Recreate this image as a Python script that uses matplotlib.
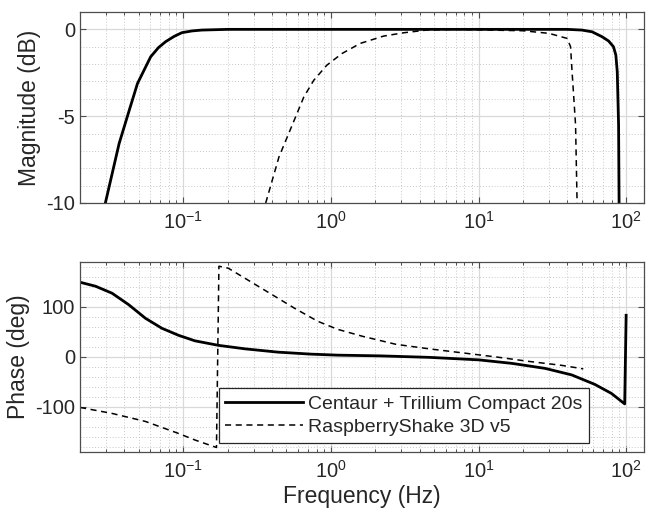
import numpy as np
import matplotlib
matplotlib.use("Agg")
import matplotlib.pyplot as plt
from matplotlib.ticker import MultipleLocator, LogLocator, NullFormatter

plt.rcParams['font.family'] = ['Liberation Sans', 'DejaVu Sans']
plt.rcParams['mathtext.fontset'] = 'custom'
plt.rcParams['mathtext.rm'] = 'Liberation Sans'
plt.rcParams['mathtext.it'] = 'Liberation Sans:italic'
plt.rcParams['axes.unicode_minus'] = False

# ---- data ----
# Centaur + Trillium Compact 20s magnitude
cen_mag_f = [0.0297, 0.0368, 0.0431, 0.049, 0.0602, 0.068, 0.076, 0.087, 0.098, 0.115,
             0.134, 0.2, 1.0, 10.0, 40.0, 50.0, 58.7, 68.5, 76.0, 82.0, 85.1, 87.0,
             88.8, 89.5]
cen_mag_db = [-10.0, -6.58, -4.66, -3.12, -1.58, -1.05, -0.71, -0.4, -0.19, -0.09,
              -0.04, 0.0, 0.0, 0.0, 0.0, -0.04, -0.14, -0.42, -0.67, -1.0, -1.48, -2.45,
              -5.5, -10.0]

# RaspberryShake 3D v5 magnitude
rs_mag_f = [0.362, 0.445, 0.577, 0.656, 0.766, 0.94, 1.19, 1.58, 2.27, 3.09, 4.45,
            7.0, 20.0, 30.0, 39.8, 42.0, 43.0, 44.2, 45.4, 46.5]
rs_mag_db = [-10.0, -7.35, -5.04, -3.89, -2.93, -2.06, -1.39, -0.81, -0.39, -0.2, -0.04,
             0.0, -0.08, -0.23, -0.52, -1.0, -2.45, -3.98, -5.5, -10.0]

# Centaur + Trillium Compact 20s phase
cen_ph_f = [0.02, 0.0255, 0.033, 0.0428, 0.0555, 0.0718, 0.093, 0.12, 0.173, 0.262,
            0.438, 0.735, 1.11, 2.13, 4.63, 10.0, 16.8, 28.2, 42.7, 61.3, 79.4, 97.7,
            99.9]
cen_ph_deg = [149, 141, 127, 104, 77, 57, 43, 32, 23, 16,
              9.4, 5.4, 3.4, 2, -1, -6, -13, -23, -36, -55, -73, -94,
              83]

# RaspberryShake 3D v5 phase
rs_ph_f = [0.02, 0.033, 0.0555, 0.093, 0.12, 0.168, 0.1745, 0.202, 0.339, 0.568,
           0.815, 1.11, 1.64, 2.76, 4.63, 7.76, 13.0, 21.8, 36.6, 51.2]
rs_ph_deg = [-101, -113, -129, -153, -166, -181, 181, 177, 137, 97,
             71, 55, 41, 25, 16, 8, 0, -9, -17, -24]

labels = ['Centaur + Trillium Compact 20s', 'RaspberryShake 3D v5']

txt = '#262626'
frame = '#4d4d4d'

fig = plt.figure(figsize=(6.46, 5.2), dpi=100)
ax1 = fig.add_axes([80/646, 1 - 203/520, 564/646, 191/520])
ax2 = fig.add_axes([80/646, 1 - 452/520, 564/646, 190.3/520])

ax1.plot(cen_mag_f, cen_mag_db, color='black', lw=2.0, label=labels[0])
ax1.plot(rs_mag_f, rs_mag_db, color='black', lw=1.1, ls=(0, (4, 3)), label=labels[1])
ax2.plot(cen_ph_f, cen_ph_deg, color='black', lw=2.0, label=labels[0])
ax2.plot(rs_ph_f, rs_ph_deg, color='black', lw=1.1, ls=(0, (4, 3)), label=labels[1])

for ax in (ax1, ax2):
    ax.set_xscale('log')
    ax.set_xlim(0.02, 132)
    ax.xaxis.set_major_locator(LogLocator(base=10, numticks=10))
    ax.xaxis.set_minor_locator(LogLocator(base=10, subs=np.arange(2, 10), numticks=20))
    ax.xaxis.set_minor_formatter(NullFormatter())
    ax.grid(True, which='major', color='#d9d9d9', lw=0.9, ls='-')
    ax.grid(True, which='minor', color='#c8c8c8', lw=0.7, ls=(0, (1, 2)))
    ax.set_axisbelow(True)
    ax.tick_params(which='both', direction='in', top=True, right=True,
                   colors=frame, labelcolor=txt, labelsize=14.5)
    ax.tick_params(which='major', length=4, width=0.8)
    ax.tick_params(axis='x', which='minor', length=2.5, width=0.7)
    ax.tick_params(axis='y', which='minor', length=0)
    ax.tick_params(axis='x', pad=6)
    for s in ax.spines.values():
        s.set_color(frame)
        s.set_linewidth(0.9)

ax1.set_ylim(-10, 1)
ax1.set_yticks([-10, -5, 0])
ax1.yaxis.set_minor_locator(MultipleLocator(1))
ax1.set_ylabel('Magnitude (dB)', fontsize=16.5, color=txt)

ax2.set_ylim(-190, 190)
ax2.set_yticks([-100, 0, 100])
ax2.yaxis.set_minor_locator(MultipleLocator(20))
ax2.set_ylabel('Phase (deg)', fontsize=16.5, color=txt)
ax2.set_xlabel('Frequency (Hz)', fontsize=16.5, color=txt, labelpad=2)

leg = ax2.legend(loc='lower right', bbox_to_anchor=(0.903, 0.047), fontsize=14,
                 handlelength=4.0, handletextpad=0.25, labelspacing=0.3,
                 borderpad=0.35, borderaxespad=0.0, fancybox=False, framealpha=1)
leg.get_frame().set_edgecolor('#262626')
leg.get_frame().set_linewidth(0.9)
for t in leg.get_texts():
    t.set_color(txt)

fig.savefig('out.png', dpi=100)
